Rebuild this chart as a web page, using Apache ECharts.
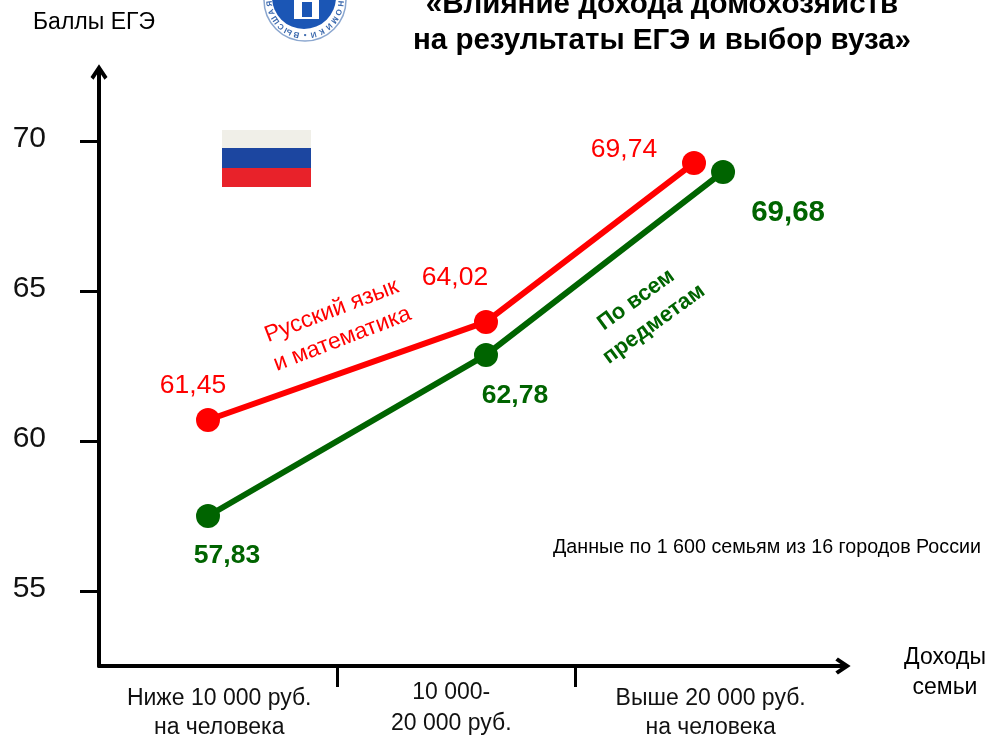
<!DOCTYPE html>
<html>
<head>
<meta charset="utf-8">
<script src="https://cdn.jsdelivr.net/npm/echarts@6/dist/echarts.min.js"></script>
<style>
html, body { margin: 0; padding: 0; background: #fff; }
#chart { width: 998px; height: 740px; }
</style>
</head>
<body>
<div id="chart"></div>
<script>
// x is measured in income bands: 0-1 low, 1-2 middle, 2-3 high
var yTicks = [55, 60, 65, 70];
var xTicks = [1, 2];
var bandLabelAt = [0.505, 1.48, 2.57];
var bandLabels = ['Ниже 10 000 руб.\nна человека', '10 000-\n20 000 руб.', 'Выше 20 000 руб.\nна человека'];

var redX = [0.458, 1.626, 2.5];
var redY = [60.7, 63.97, 69.27];
var redLabels = ['61,45', '64,02', '69,74'];
var greenX = [0.458, 1.626, 2.622];
var greenY = [57.5, 62.87, 68.97];
var greenLabels = ['57,83', '62,78', '69,68'];

var redOffsets = [[-15, -34], [-31, -44], [-70, -13]];
var greenOffsets = [[19, 40], [29, 41], [65, 41]];
var redSizes = [26.5, 26.5, 26.5];
var greenSizes = [26.5, 26.5, 29.5];

var logoLetters = ['Э', 'К', 'О', 'Н', 'О', 'М', 'И', 'К', 'И', '•', 'В', 'Ы', 'С', 'Ш', 'А', 'Я'];

var font = '"Liberation Sans", Arial, sans-serif';
var arrowPath = 'path://M10,0 L20,15 L16.5,18 L10,8.5 L3.5,18 L0,15 Z';

function makeSeries(name, color, xs, ys, labels, offsets, sizes, weight) {
    return {
        name: name,
        type: 'line',
        symbol: 'circle',
        symbolSize: 24,
        silent: true,
        clip: false,
        lineStyle: { color: color, width: 6 },
        itemStyle: { color: color },
        data: xs.map(function (x, i) {
            return {
                value: [x, ys[i]],
                label: {
                    show: true,
                    position: 'inside',
                    offset: offsets[i],
                    formatter: labels[i],
                    color: color,
                    fontFamily: font,
                    fontSize: sizes[i],
                    fontWeight: weight
                }
            };
        })
    };
}

// logo letters sit on the ring, running clockwise with the dot at the bottom
var logoChildren = [
    { type: 'circle', shape: { cx: 305, cy: 0, r: 41 }, style: { fill: '#fff', stroke: '#8aa6cf', lineWidth: 1.5 } },
    { type: 'circle', shape: { cx: 304, cy: -3, r: 32 }, style: { fill: '#1b56b5' } },
    { type: 'rect', shape: { x: 294, y: 0, width: 25, height: 19 }, style: { fill: '#fff' } },
    { type: 'rect', shape: { x: 302, y: 2, width: 10, height: 15 }, style: { fill: '#1b56b5' } }
];
logoLetters.forEach(function (ch, i) {
    var deg = 90 + (i - 9) * 14;
    var rad = deg * Math.PI / 180;
    logoChildren.push({
        type: 'text',
        x: 305 + 35.5 * Math.cos(rad),
        y: 35.5 * Math.sin(rad),
        rotation: -(deg + 90) * Math.PI / 180,
        style: { text: ch, align: 'center', verticalAlign: 'middle', fill: '#3a68ad', font: 'bold 8px ' + font }
    });
});

var chart = echarts.init(document.getElementById('chart'));
chart.setOption({
    animation: false,
    backgroundColor: '#fff',
    title: {
        text: '«Влияние дохода домохозяйств\nна результаты ЕГЭ и выбор вуза»',
        left: 657,
        top: -18,
        textAlign: 'center',
        textStyle: { fontFamily: font, fontSize: 29.5, fontWeight: 'bold', color: '#000', lineHeight: 36 }
    },
    grid: { left: 99, right: 155, top: 72, bottom: 74, outerBoundsMode: 'none' },
    xAxis: {
        type: 'value',
        min: 0,
        max: 3.126,
        splitLine: { show: false },
        axisLine: {
            onZero: false,
            symbol: ['none', arrowPath],
            symbolSize: [17, 17],
            lineStyle: { color: '#000', width: 4 }
        },
        axisTick: { length: 21, customValues: xTicks, lineStyle: { color: '#000', width: 3 } },
        axisLabel: {
            customValues: bandLabelAt,
            margin: 12,
            fontFamily: font,
            color: '#111',
            formatter: function (v) {
                var i = bandLabelAt.indexOf(v);
                var lines = bandLabels[i].split('\n');
                return i === 1
                    ? '{c|' + lines[0] + '}\n{d|' + lines[1] + '}'
                    : '{a|' + lines[0] + '}\n{b|' + lines[1] + '}';
            },
            rich: {
                a: { fontFamily: font, fontSize: 23, color: '#111', lineHeight: 42 },
                b: { fontFamily: font, fontSize: 23, color: '#111', lineHeight: 16 },
                c: { fontFamily: font, fontSize: 23, color: '#111', lineHeight: 30 },
                d: { fontFamily: font, fontSize: 23, color: '#111', lineHeight: 31 }
            }
        }
    },
    yAxis: {
        type: 'value',
        min: 52.5,
        max: 72.3,
        name: 'Баллы ЕГЭ',
        nameLocation: 'end',
        nameGap: 38,
        nameTextStyle: { fontFamily: font, fontSize: 23, color: '#000', align: 'center', padding: [0, 10, 0, 0] },
        splitLine: { show: false },
        axisLine: {
            onZero: false,
            symbol: ['none', arrowPath],
            symbolSize: [17, 17],
            lineStyle: { color: '#000', width: 4 }
        },
        axisTick: { length: 19, customValues: yTicks, lineStyle: { color: '#000', width: 3 } },
        axisLabel: {
            customValues: yTicks,
            margin: 53,
            formatter: '{t|{value}}',
            rich: { t: { fontFamily: font, fontSize: 30, color: '#111', padding: [0, 0, 4, 0] } }
        }
    },
    graphic: [
        { type: 'group', children: logoChildren },
        { type: 'rect', shape: { x: 222, y: 130, width: 89, height: 18 }, style: { fill: '#f0efe8' } },
        { type: 'rect', shape: { x: 222, y: 148, width: 89, height: 20 }, style: { fill: '#1c46a0' } },
        { type: 'rect', shape: { x: 222, y: 168, width: 89, height: 19 }, style: { fill: '#e8222a' } },
        {
            type: 'text', x: 945, y: 673,
            style: { text: 'Доходы\nсемьи', align: 'center', verticalAlign: 'middle', fill: '#000', font: '23px ' + font, lineHeight: 30 }
        },
        {
            type: 'text', x: 337, y: 325, rotation: 21 * Math.PI / 180,
            style: { text: 'Русский язык\nи математика', align: 'center', verticalAlign: 'middle', fill: '#ff0000', font: '23px ' + font, lineHeight: 30 }
        },
        {
            type: 'text', x: 645, y: 312, rotation: 36 * Math.PI / 180,
            style: { text: 'По всем\nпредметам', align: 'center', verticalAlign: 'middle', fill: '#006400', font: 'bold 22px ' + font, lineHeight: 30 }
        },
        {
            type: 'text', x: 767, y: 548,
            style: { text: 'Данные по 1 600 семьям из 16 городов России', align: 'center', verticalAlign: 'middle', fill: '#000', font: '19.7px ' + font }
        }
    ],
    series: [
        makeSeries('Русский язык и математика', '#ff0000', redX, redY, redLabels, redOffsets, redSizes, 'normal'),
        makeSeries('По всем предметам', '#006400', greenX, greenY, greenLabels, greenOffsets, greenSizes, 'bold')
    ]
});
</script>
</body>
</html>
